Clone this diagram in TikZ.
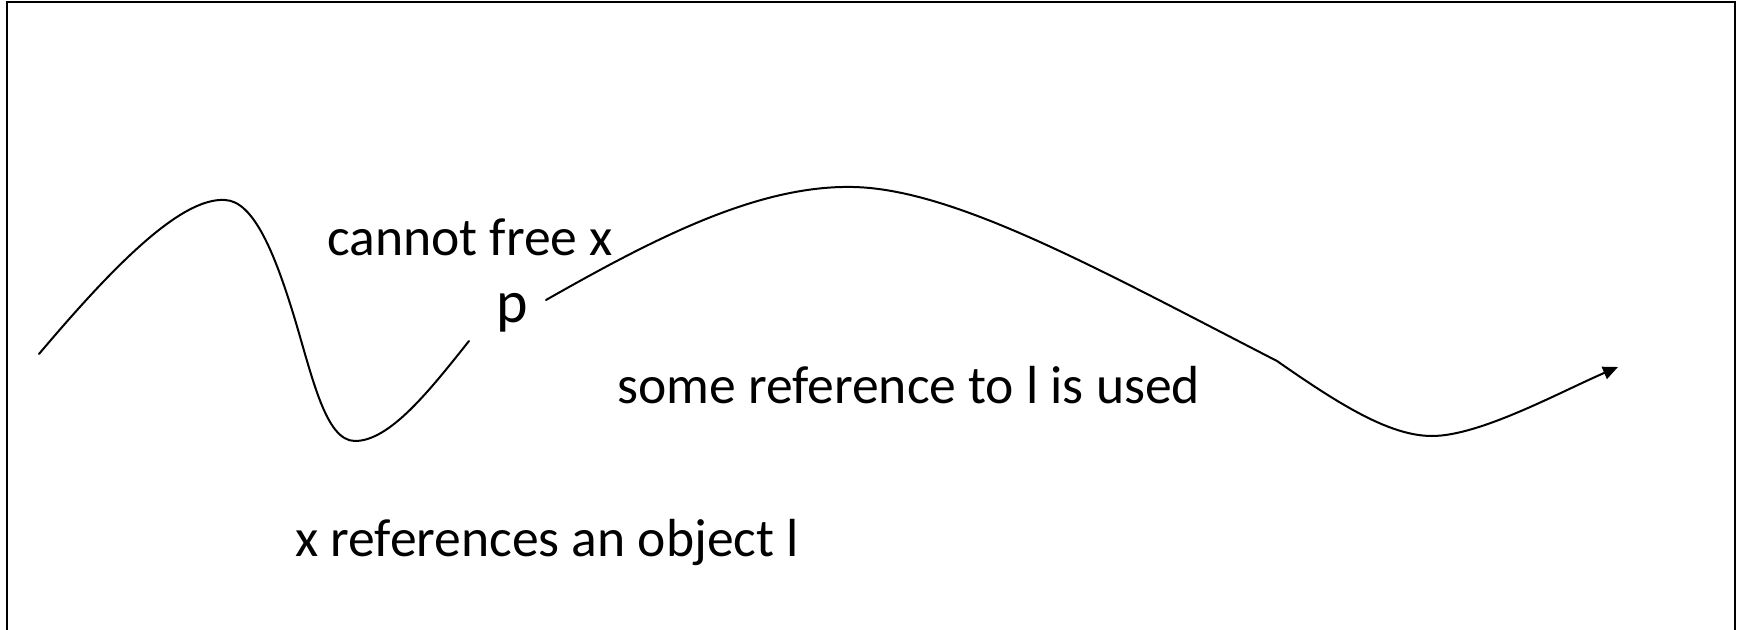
\documentclass[tikz,border=0pt]{standalone}
\usepackage{fontspec}
\setmainfont{Carlito}
\usetikzlibrary{arrows.meta}
\begin{document}
\begin{tikzpicture}[x=0.5pt,y=-0.5pt,
  lbl/.style={anchor=base west,inner sep=0pt,font=\fontsize{26.8}{32}\selectfont},
  curve/.style={line width=1pt,line cap=round,line join=round}]
\useasboundingbox (0,0) rectangle (1741,630);
\fill[white] (0,0) rectangle (1741,630);
% frame (bottom edge lies outside the picture)
\draw[line width=1pt] (7,630) -- (7,2) -- (1735,2) -- (1735,630);
% texts
\node[lbl] (cannot) at (327,256) {cannot free x};
\node[lbl,font=\fontsize{30}{36}\selectfont] (p) at (496,323) {p};
\node[lbl] (used) at (617,404) {some reference to l is used};
\node[lbl] (refs) at (295,557) {x references an object l};
% left curve
\draw[curve] (39,354) .. controls (110,270) and (180,197) .. (225,200)
  .. controls (254,201) and (275,255) .. (293,313)
  .. controls (312,375) and (325,441) .. (355,441)
  .. controls (390,441) and (430,390) .. (469,341);
% right curve with arrow
\draw[curve,-{Triangle[length=7.5pt,width=6.5pt]}] (546,300)
  .. controls (655,238) and (758,185) .. (853,187)
  .. controls (955,189) and (1100,270) .. (1277,361)
  .. controls (1340,405) and (1390,436) .. (1432,436)
  .. controls (1480,436) and (1560,392) .. (1618,367);
\end{tikzpicture}
\end{document}
